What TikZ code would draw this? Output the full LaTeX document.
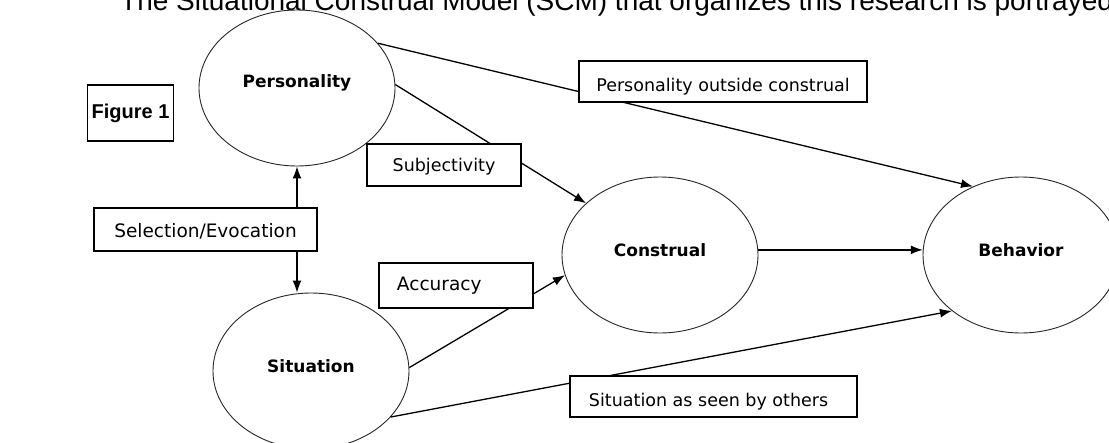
\documentclass[tikz,border=0pt]{standalone}
\usepackage{fontspec}
\setmainfont{DejaVu Sans}
\newfontfamily\arialfont{Liberation Sans}
\usetikzlibrary{arrows.meta,positioning,shapes.geometric}

\begin{document}
\begin{tikzpicture}[x=1pt,y=-1pt,>={Latex[length=12pt,width=9pt]},
    construct/.style={ellipse,draw=black!85,line width=0.9pt,minimum width=196pt,minimum height=156pt,inner sep=0pt},
    conlabel/.style={font=\fontsize{17}{20}\selectfont\bfseries,yshift=5pt},
    pathbox/.style={draw,line width=1.1pt,fill=white,inner sep=0pt},
    boxlabel/.style={font=\fontsize{17.5}{20}\selectfont},
    link/.style={line width=1.3pt,->}]

    % Page and heading
    \useasboundingbox (0,0) rectangle (1109,442);
    \clip (0,0) rectangle (1109,442);
    \node[anchor=base west,inner sep=0pt,font=\arialfont\fontsize{28}{32}\selectfont] (heading) at (120,10.5)
        {The Situational Construal Model (SCM) that organizes this research is portrayed};

    % Constructs
    \node[construct,label={[conlabel]center:Personality}] (pers) at (297,88) {};
    \node[construct,label={[conlabel]center:Situation}] (sit) at (311,371) {};
    \node[construct,label={[conlabel]center:Construal}] (cons) at (660,255) {};
    \node[construct,label={[conlabel]center:Behavior}] (beh) at (1021,255) {};

    % Paths
    \draw[link,<->] (pers.south) -- (pers.south |- sit.north);
    \draw[link] (pers.29) -- (beh.125);
    \draw[link] (pers.2) -- (cons.145);
    \draw[link] (sit.2) -- (cons.192);
    \draw[link] (sit.330) -- (beh.219);
    \draw[link] (cons.3) -- (beh.177);

    % Path labels
    \node[pathbox,line width=1.4pt,minimum width=86pt,minimum height=56pt,
        font=\arialfont\fontsize{20}{24}\selectfont\bfseries] (fig) at (130.5,113) {Figure 1};
    \node[pathbox,minimum width=288pt,minimum height=41pt,
        label={[boxlabel,yshift=-5pt]center:Personality outside construal}] (pout) at (723,81.5) {};
    \node[pathbox,minimum width=154pt,minimum height=42pt,
        label={[boxlabel,yshift=-2pt]center:Subjectivity}] (subj) at (444,165) {};
    \node[pathbox,minimum width=223pt,minimum height=43pt,
        label={[boxlabel,yshift=-2pt,font=\fontsize{18.5}{20}\selectfont]center:Selection/Evocation}] (selev) at (205.5,229.5) {};
    \node[pathbox,minimum width=154pt,minimum height=45pt,
        label={[boxlabel,anchor=west,xshift=15pt,font=\fontsize{18.5}{20}\selectfont]west:Accuracy}] (acc) at (456,285.5) {};
    \node[pathbox,minimum width=287pt,minimum height=41pt,
        label={[boxlabel,anchor=west,xshift=16pt,yshift=-5pt]west:Situation as seen by others}] (seen) at (713.5,396.5) {};
\end{tikzpicture}
\end{document}
